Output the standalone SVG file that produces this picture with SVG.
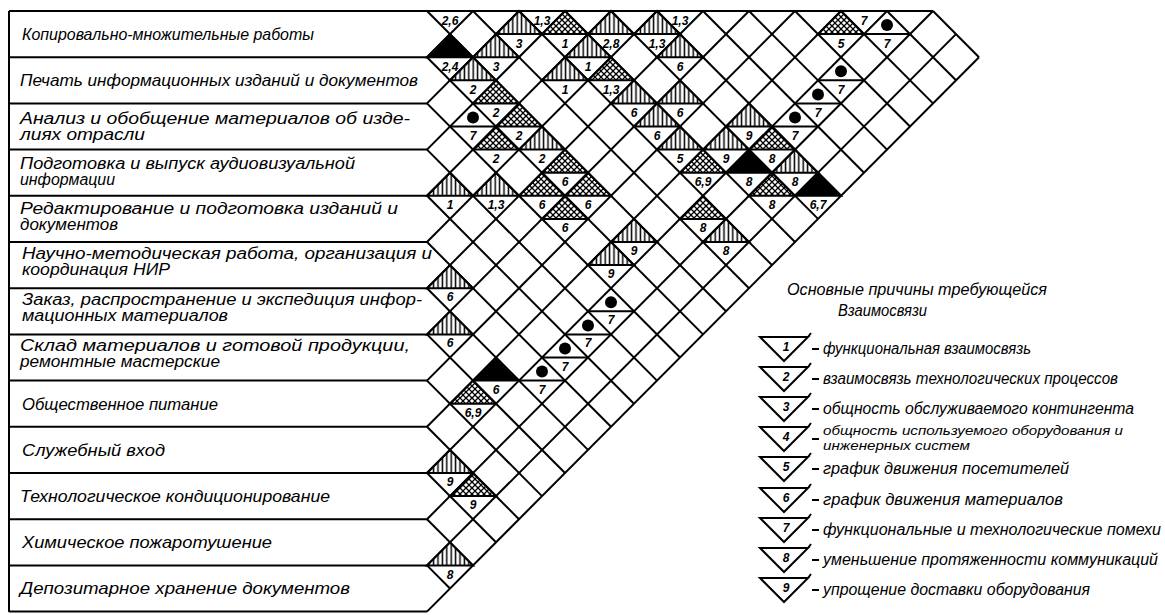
<svg xmlns="http://www.w3.org/2000/svg" width="1165" height="615" viewBox="0 0 1165 615">
<defs>
<style>
.lbl{font-family:"Liberation Sans","DejaVu Sans",sans-serif;font-style:italic;font-size:17px;fill:#000}
.lbl2{font-family:"Liberation Sans","DejaVu Sans",sans-serif;font-style:italic;font-size:16px;fill:#000}
.num{font-family:"Liberation Sans","DejaVu Sans",sans-serif;font-style:italic;font-weight:bold;font-size:12px;fill:#000;text-anchor:middle}
.leg{font-family:"Liberation Sans","DejaVu Sans",sans-serif;font-style:italic;font-size:16px;fill:#000}
.leg2{font-family:"Liberation Sans","DejaVu Sans",sans-serif;font-style:italic;font-size:13px;fill:#000}
.lat *{vector-effect:non-scaling-stroke}
.ln{stroke:#000;stroke-width:2;fill:none}
</style>
<pattern id="vh" patternUnits="userSpaceOnUse" width="4.4" height="10" patternTransform="scale(0.043478 0.04329)">
<rect width="4.4" height="10" fill="#fff"/>
<line x1="2.2" y1="-1" x2="2.2" y2="11" stroke="#000" stroke-width="1.5"/>
</pattern>
<pattern id="xh" patternUnits="userSpaceOnUse" width="6" height="6" patternTransform="scale(0.043478 0.04329)">
<rect width="6" height="6" fill="#fff"/>
<path d="M-1,-1 L7,7 M7,-1 L-1,7" stroke="#000" stroke-width="1.3"/>
</pattern>
</defs>
<rect width="1165" height="615" fill="#fff"/>

<g id="frame" class="ln">
<line x1="9" y1="11" x2="9" y2="612"/>
<line x1="9" y1="11" x2="933" y2="11"/>
<line x1="9" y1="57.2" x2="427" y2="57.2"/>
<line x1="9" y1="103.4" x2="427" y2="103.4"/>
<line x1="9" y1="149.6" x2="427" y2="149.6"/>
<line x1="9" y1="195.8" x2="427" y2="195.8"/>
<line x1="9" y1="242" x2="427" y2="242"/>
<line x1="9" y1="288.2" x2="427" y2="288.2"/>
<line x1="9" y1="334.4" x2="427" y2="334.4"/>
<line x1="9" y1="380.6" x2="427" y2="380.6"/>
<line x1="9" y1="426.8" x2="427" y2="426.8"/>
<line x1="9" y1="473" x2="427" y2="473"/>
<line x1="9" y1="519.2" x2="427" y2="519.2"/>
<line x1="9" y1="565.4" x2="427" y2="565.4"/>
<line x1="9" y1="611.6" x2="427" y2="611.6"/>
</g>

<g id="cells" class="lat" transform="translate(427,11) scale(23,23.1)" stroke="#000" stroke-width="2">
<g fill="url(#vh)">
<polygon points="3,1 4,0 5,1"/>
<polygon points="7,1 8,0 9,1"/>
<polygon points="9,1 10,0 11,1"/>
<polygon points="2,2 3,1 4,2"/>
<polygon points="6,2 7,1 8,2"/>
<polygon points="10,2 11,1 12,2"/>
<polygon points="1,3 2,2 3,3"/>
<polygon points="5,3 6,2 7,3"/>
<polygon points="8,4 9,3 10,4"/>
<polygon points="10,4 11,3 12,4"/>
<polygon points="9,5 10,4 11,5"/>
<polygon points="13,5 14,4 15,5"/>
<polygon points="4,6 5,5 6,6"/>
<polygon points="10,6 11,5 12,6"/>
<polygon points="12,6 13,5 14,6"/>
<polygon points="15,7 16,6 17,7"/>
<polygon points="0,8 1,7 2,8"/>
<polygon points="2,8 3,7 4,8"/>
<polygon points="8,10 9,9 10,10"/>
<polygon points="12,10 13,9 14,10"/>
<polygon points="7,11 8,10 9,11"/>
<polygon points="0,12 1,11 2,12"/>
<polygon points="0,14 1,13 2,14"/>
<polygon points="0,20 1,19 2,20"/>
<polygon points="0,24 1,23 2,24"/>
</g>
<g fill="url(#xh)">
<polygon points="5,1 6,0 7,1"/>
<polygon points="17,1 18,0 19,1"/>
<polygon points="7,3 8,2 9,3"/>
<polygon points="2,4 3,3 4,4"/>
<polygon points="3,5 4,4 5,5"/>
<polygon points="2,6 3,5 4,6"/>
<polygon points="14,6 15,5 16,6"/>
<polygon points="5,7 6,6 7,7"/>
<polygon points="11,7 12,6 13,7"/>
<polygon points="4,8 5,7 6,8"/>
<polygon points="6,8 7,7 8,8"/>
<polygon points="14,8 15,7 16,8"/>
<polygon points="5,9 6,8 7,9"/>
<polygon points="11,9 12,8 13,9"/>
<polygon points="1,17 2,16 3,17"/>
<polygon points="1,21 2,20 3,21"/>
</g>
<g fill="#000">
<polygon points="0,2 1,1 2,2"/>
<polygon points="13,7 14,6 15,7"/>
<polygon points="16,8 17,7 18,8"/>
<polygon points="2,16 3,15 4,16"/>
</g>
<g fill="none">
<line x1="19" y1="1" x2="21" y2="1"/>
<line x1="1" y1="5" x2="3" y2="5"/>
<line x1="17" y1="3" x2="19" y2="3"/>
<line x1="16" y1="4" x2="18" y2="4"/>
<line x1="15" y1="5" x2="17" y2="5"/>
<line x1="7" y1="13" x2="9" y2="13"/>
<line x1="6" y1="14" x2="8" y2="14"/>
<line x1="5" y1="15" x2="7" y2="15"/>
<line x1="4" y1="16" x2="6" y2="16"/>
</g>
</g>

<g id="connectors" class="lat" transform="translate(427,11) scale(23,23.1)" stroke="#000" stroke-width="2" fill="none">
<line x1="22" y1="0" x2="24" y2="2"/>
<line x1="20" y1="0" x2="23" y2="3"/>
<line x1="18" y1="0" x2="22" y2="4"/>
<line x1="16" y1="0" x2="21" y2="5"/>
<line x1="14" y1="0" x2="20" y2="6"/>
<line x1="12" y1="0" x2="19" y2="7"/>
<line x1="10" y1="0" x2="18" y2="8"/>
<line x1="8" y1="0" x2="17" y2="9"/>
<line x1="6" y1="0" x2="16" y2="10"/>
<line x1="4" y1="0" x2="15" y2="11"/>
<line x1="2" y1="0" x2="14" y2="12"/>
<line x1="0" y1="0" x2="13" y2="13"/>
<line x1="0" y1="2" x2="12" y2="14"/>
<line x1="0" y1="4" x2="11" y2="15"/>
<line x1="0" y1="6" x2="10" y2="16"/>
<line x1="0" y1="8" x2="9" y2="17"/>
<line x1="0" y1="10" x2="8" y2="18"/>
<line x1="0" y1="12" x2="7" y2="19"/>
<line x1="0" y1="14" x2="6" y2="20"/>
<line x1="0" y1="16" x2="5" y2="21"/>
<line x1="0" y1="18" x2="4" y2="22"/>
<line x1="0" y1="20" x2="3" y2="23"/>
<line x1="0" y1="22" x2="2" y2="24"/>
<line x1="0" y1="24" x2="1" y2="25"/>
<line x1="0" y1="2" x2="2" y2="0"/>
<line x1="0" y1="4" x2="4" y2="0"/>
<line x1="0" y1="6" x2="6" y2="0"/>
<line x1="0" y1="8" x2="8" y2="0"/>
<line x1="0" y1="10" x2="10" y2="0"/>
<line x1="0" y1="12" x2="12" y2="0"/>
<line x1="0" y1="14" x2="14" y2="0"/>
<line x1="0" y1="16" x2="16" y2="0"/>
<line x1="0" y1="18" x2="18" y2="0"/>
<line x1="0" y1="20" x2="20" y2="0"/>
<line x1="0" y1="22" x2="22" y2="0"/>
<line x1="0" y1="24" x2="23" y2="1"/>
<line x1="0" y1="26" x2="24" y2="2"/>
</g>

<g id="dots" fill="#000">
<circle cx="887" cy="25" r="6"/>
<circle cx="473" cy="117.5" r="6"/>
<circle cx="841" cy="71.3" r="6"/>
<circle cx="818" cy="94.4" r="6"/>
<circle cx="795" cy="117.5" r="6"/>
<circle cx="611" cy="302.3" r="6"/>
<circle cx="588" cy="325.4" r="6"/>
<circle cx="565" cy="348.5" r="6"/>
<circle cx="542" cy="371.6" r="6"/>
</g>

<g id="cell-numbers" class="num">
<text x="450" y="25">2,6</text>
<text x="542" y="25">1,3</text>
<text x="680" y="25">1,3</text>
<text x="864" y="25">7</text>
<text x="519" y="48">3</text>
<text x="565" y="48">1</text>
<text x="611" y="48">2,8</text>
<text x="657" y="48">1,3</text>
<text x="841" y="48">5</text>
<text x="887" y="48">7</text>
<text x="450" y="71">2,4</text>
<text x="496" y="71">3</text>
<text x="588" y="71">1</text>
<text x="680" y="71">6</text>
<text x="473" y="94">2</text>
<text x="565" y="94">1</text>
<text x="611" y="94">1,3</text>
<text x="841" y="94">7</text>
<text x="496" y="117">2</text>
<text x="634" y="117">6</text>
<text x="680" y="117">6</text>
<text x="818" y="117">7</text>
<text x="473" y="140">7</text>
<text x="519" y="140">2</text>
<text x="657" y="140">6</text>
<text x="749" y="140">9</text>
<text x="795" y="140">7</text>
<text x="496" y="163">2</text>
<text x="542" y="163">2</text>
<text x="680" y="163">5</text>
<text x="726" y="163">9</text>
<text x="772" y="163">8</text>
<text x="565" y="186">6</text>
<text x="703" y="186">6,9</text>
<text x="749" y="186">8</text>
<text x="795" y="186">8</text>
<text x="450" y="209">1</text>
<text x="496" y="209">1,3</text>
<text x="542" y="209">6</text>
<text x="588" y="209">6</text>
<text x="772" y="209">8</text>
<text x="818" y="209">6,7</text>
<text x="565" y="232">6</text>
<text x="703" y="232">8</text>
<text x="634" y="255">9</text>
<text x="726" y="255">8</text>
<text x="611" y="278">9</text>
<text x="450" y="301">6</text>
<text x="611" y="324">7</text>
<text x="450" y="347">6</text>
<text x="588" y="347">7</text>
<text x="565" y="371">7</text>
<text x="496" y="394">6</text>
<text x="542" y="394">7</text>
<text x="473" y="417">6,9</text>
<text x="450" y="486">9</text>
<text x="473" y="509">9</text>
<text x="450" y="579">8</text>
</g>

<g id="row1" class="lbl"><text x="22" y="40" textLength="292" lengthAdjust="spacingAndGlyphs">Копировально-множительные работы</text></g>
<g id="row2" class="lbl"><text x="20" y="86" textLength="398" lengthAdjust="spacingAndGlyphs">Печать информационных изданий и документов</text></g>
<g id="row3" class="lbl2"><text x="20" y="124" textLength="390" lengthAdjust="spacingAndGlyphs">Анализ и обобщение материалов об изде-</text><text x="20" y="140" textLength="125" lengthAdjust="spacingAndGlyphs">лиях отрасли</text></g>
<g id="row4" class="lbl2"><text x="20" y="169" textLength="335" lengthAdjust="spacingAndGlyphs">Подготовка и выпуск аудиовизуальной</text><text x="20" y="185" textLength="95" lengthAdjust="spacingAndGlyphs">информации</text></g>
<g id="row5" class="lbl2"><text x="20" y="214" textLength="378" lengthAdjust="spacingAndGlyphs">Редактирование и подготовка изданий и</text><text x="20" y="230" textLength="98" lengthAdjust="spacingAndGlyphs">документов</text></g>
<g id="row6" class="lbl2"><text x="22" y="259" textLength="410" lengthAdjust="spacingAndGlyphs">Научно-методическая работа, организация и</text><text x="22" y="275" textLength="148" lengthAdjust="spacingAndGlyphs">координация НИР</text></g>
<g id="row7" class="lbl2"><text x="22" y="305" textLength="400" lengthAdjust="spacingAndGlyphs">Заказ, распространение и экспедиция инфор-</text><text x="22" y="321" textLength="206" lengthAdjust="spacingAndGlyphs">мационных материалов</text></g>
<g id="row8" class="lbl2"><text x="20" y="351" textLength="390" lengthAdjust="spacingAndGlyphs">Склад материалов и готовой продукции,</text><text x="20" y="367" textLength="200" lengthAdjust="spacingAndGlyphs">ремонтные мастерские</text></g>
<g id="row9" class="lbl"><text x="22" y="410" textLength="196" lengthAdjust="spacingAndGlyphs">Общественное питание</text></g>
<g id="row10" class="lbl"><text x="22" y="456" textLength="143" lengthAdjust="spacingAndGlyphs">Служебный вход</text></g>
<g id="row11" class="lbl"><text x="20" y="502" textLength="310" lengthAdjust="spacingAndGlyphs">Технологическое кондиционирование</text></g>
<g id="row12" class="lbl"><text x="22" y="548" textLength="250" lengthAdjust="spacingAndGlyphs">Химическое пожаротушение</text></g>
<g id="row13" class="lbl"><text x="20" y="594" textLength="330" lengthAdjust="spacingAndGlyphs">Депозитарное хранение документов</text></g>

<g id="legend">
<text class="leg" x="787" y="295" textLength="260" lengthAdjust="spacingAndGlyphs">Основные причины требующейся</text>
<text class="leg" x="838" y="316" textLength="89" lengthAdjust="spacingAndGlyphs">Взаимосвязи</text>
<g class="ln">
<path d="M760,337 H808 L784,361 Z M808,337 L811,333 M812,349 H819"/>
<path d="M760,367 H808 L784,391 Z M808,367 L811,363 M812,379 H819"/>
<path d="M760,397 H808 L784,421 Z M808,397 L811,393 M812,409 H819"/>
<path d="M760,427 H808 L784,451 Z M808,427 L811,423 M812,439 H819"/>
<path d="M760,457 H808 L784,481 Z M808,457 L811,453 M812,469 H819"/>
<path d="M760,488 H808 L784,512 Z M808,488 L811,484 M812,500 H819"/>
<path d="M760,518 H808 L784,542 Z M808,518 L811,514 M812,530 H819"/>
<path d="M760,548 H808 L784,572 Z M808,548 L811,544 M812,560 H819"/>
<path d="M760,578 H808 L784,602 Z M808,578 L811,574 M812,590 H819"/>
</g>
<g class="num">
<text x="786" y="351">1</text>
<text x="786" y="381">2</text>
<text x="786" y="411">3</text>
<text x="786" y="441">4</text>
<text x="786" y="471">5</text>
<text x="786" y="502">6</text>
<text x="786" y="532">7</text>
<text x="786" y="562">8</text>
<text x="786" y="592">9</text>
</g>
<text class="leg" x="823" y="354" textLength="208" lengthAdjust="spacingAndGlyphs">функциональная взаимосвязь</text>
<text class="leg" x="823" y="384" textLength="295" lengthAdjust="spacingAndGlyphs">взаимосвязь технологических процессов</text>
<text class="leg" x="823" y="414" textLength="311" lengthAdjust="spacingAndGlyphs">общность обслуживаемого контингента</text>
<text class="leg2" x="823" y="435" textLength="300" lengthAdjust="spacingAndGlyphs">общность используемого оборудования и</text>
<text class="leg2" x="823" y="450" textLength="147" lengthAdjust="spacingAndGlyphs">инженерных систем</text>
<text class="leg" x="823" y="474" textLength="246" lengthAdjust="spacingAndGlyphs">график движения посетителей</text>
<text class="leg" x="823" y="505" textLength="240" lengthAdjust="spacingAndGlyphs">график движения материалов</text>
<text class="leg" x="823" y="535" textLength="338" lengthAdjust="spacingAndGlyphs">функциональные и технологические помехи</text>
<text class="leg" x="823" y="565" textLength="335" lengthAdjust="spacingAndGlyphs">уменьшение протяженности коммуникаций</text>
<text class="leg" x="823" y="595" textLength="267" lengthAdjust="spacingAndGlyphs">упрощение доставки оборудования</text>
</g>
</svg>
